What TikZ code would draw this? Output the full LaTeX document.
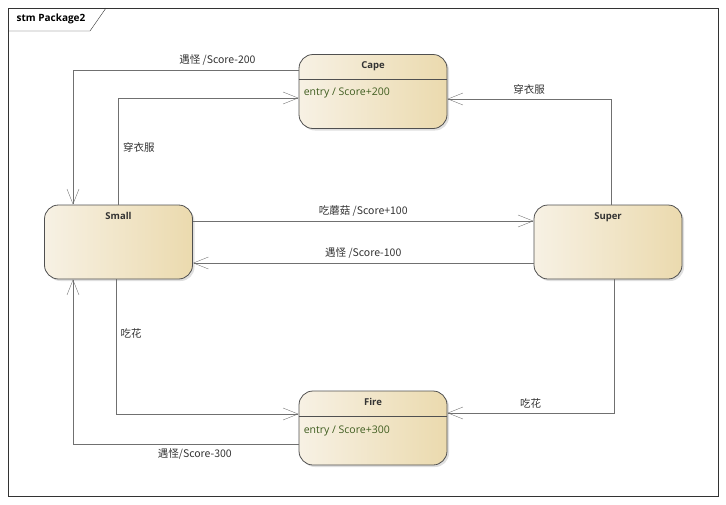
\documentclass[tikz,border=0pt]{standalone}
\usepackage{fontspec}
\setmainfont{Open Sans}
\newfontfamily\cjk{Noto Sans CJK SC}
\usetikzlibrary{positioning,arrows.meta,shadows}
\definecolor{statelight}{HTML}{F7F1E4}
\definecolor{statedark}{HTML}{EBDAAE}
\definecolor{stateline}{HTML}{505050}
\definecolor{wireline}{HTML}{707070}
\definecolor{entrygreen}{HTML}{3E5C1E}
\definecolor{labelgray}{HTML}{333333}

\begin{document}
\begin{tikzpicture} [
x=1pt, y=-1pt,
statebox/.style={rectangle, rounded corners=14pt, draw=stateline, thick, left color=statelight, right color=statedark, minimum width=148pt, minimum height=74pt, drop shadow={opacity=0.25, shadow xshift=2pt, shadow yshift=-2pt}},
statetitle/.style={inner sep=0pt, font=\bfseries\fontsize{9.5}{11}\selectfont, text=labelgray},
entrytext/.style={inner sep=0pt, anchor=west, font=\fontsize{10.5}{12}\selectfont, text=entrygreen},
trans/.style={draw=wireline, -{Straight Barb[length=15pt, width=12pt]}},
translabel/.style={font=\cjk\fontsize{10.5}{12}\selectfont, text=labelgray, inner sep=4.5pt},
]
\useasboundingbox (0,0) rectangle (726,504);

%Frame
\draw[black!80] (8,8) rectangle (718,496);
\draw[black!80] (8,31) -- (90,31) -- (106,8);
\node[inner sep=0pt, font=\bfseries\fontsize{10}{12}\selectfont] (frametitle) at (51,19) {stm Package2};

%Nodes
\node[statebox]    (cape)    at (373,91.5)  {};
\node[statebox]    (small)   at (118.5,242) {};
\node[statebox]    (super)   at (608,242)   {};
\node[statebox]    (fire)    at (373,428)   {};

\node[statetitle]  (capetitle)   [below=7.5pt of cape.north]   {Cape};
\node[statetitle]  (smalltitle)  [below=7.5pt of small.north]  {Small};
\node[statetitle]  (supertitle)  [below=7.5pt of super.north]  {Super};
\node[statetitle]  (firetitle)   [below=7.5pt of fire.north]   {Fire};

\draw[stateline] ([yshift=-25pt]cape.north west) -- ([yshift=-25pt]cape.north east);
\draw[stateline] ([yshift=-26pt]fire.north west) -- ([yshift=-26pt]fire.north east);
\node[entrytext]   (capeentry)  at ([xshift=5pt,yshift=-39pt]cape.north west) {entry / Score+200};
\node[entrytext]   (fireentry)  at ([xshift=5pt,yshift=-40pt]fire.north west) {entry / Score+300};

%Lines
\draw[trans] ([yshift=21.5pt]cape.west) -| node[translabel, above, pos=0.18] (lblcapesmall) {遇怪 /Score-200} ([xshift=-45.5pt]small.north);
\draw[trans] (small.north) |- node[translabel, right, pos=0.27] (lblsmallcape) {穿衣服} ([yshift=-6.5pt]cape.west);
\draw[trans] ([yshift=21pt]small.east) -- node[translabel, above] (lblsmallsuper) {吃蘑菇 /Score+100} ([yshift=21pt]super.west);
\draw[trans] ([yshift=-21pt]super.west) -- node[translabel, above] (lblsupersmall) {遇怪 /Score-100} ([yshift=-21pt]small.east);
\draw[trans] ([xshift=3pt]super.north) |- node[translabel, above, pos=0.75] (lblsupercape) {穿衣服} ([yshift=-7.5pt]cape.east);
\draw[trans] ([xshift=6pt]super.south) |- node[translabel, above, pos=0.75] (lblsuperfire) {吃花} ([yshift=15pt]fire.east);
\draw[trans] ([xshift=-2.5pt]small.south) |- node[translabel, right, pos=0.2] (lblsmallfire) {吃花} ([yshift=14pt]fire.west);
\draw[trans] ([yshift=-16pt]fire.west) -| node[translabel, below, pos=0.23] (lblfiresmall) {遇怪/Score-300} ([xshift=-45.5pt]small.south);

\end{tikzpicture}
\end{document}
